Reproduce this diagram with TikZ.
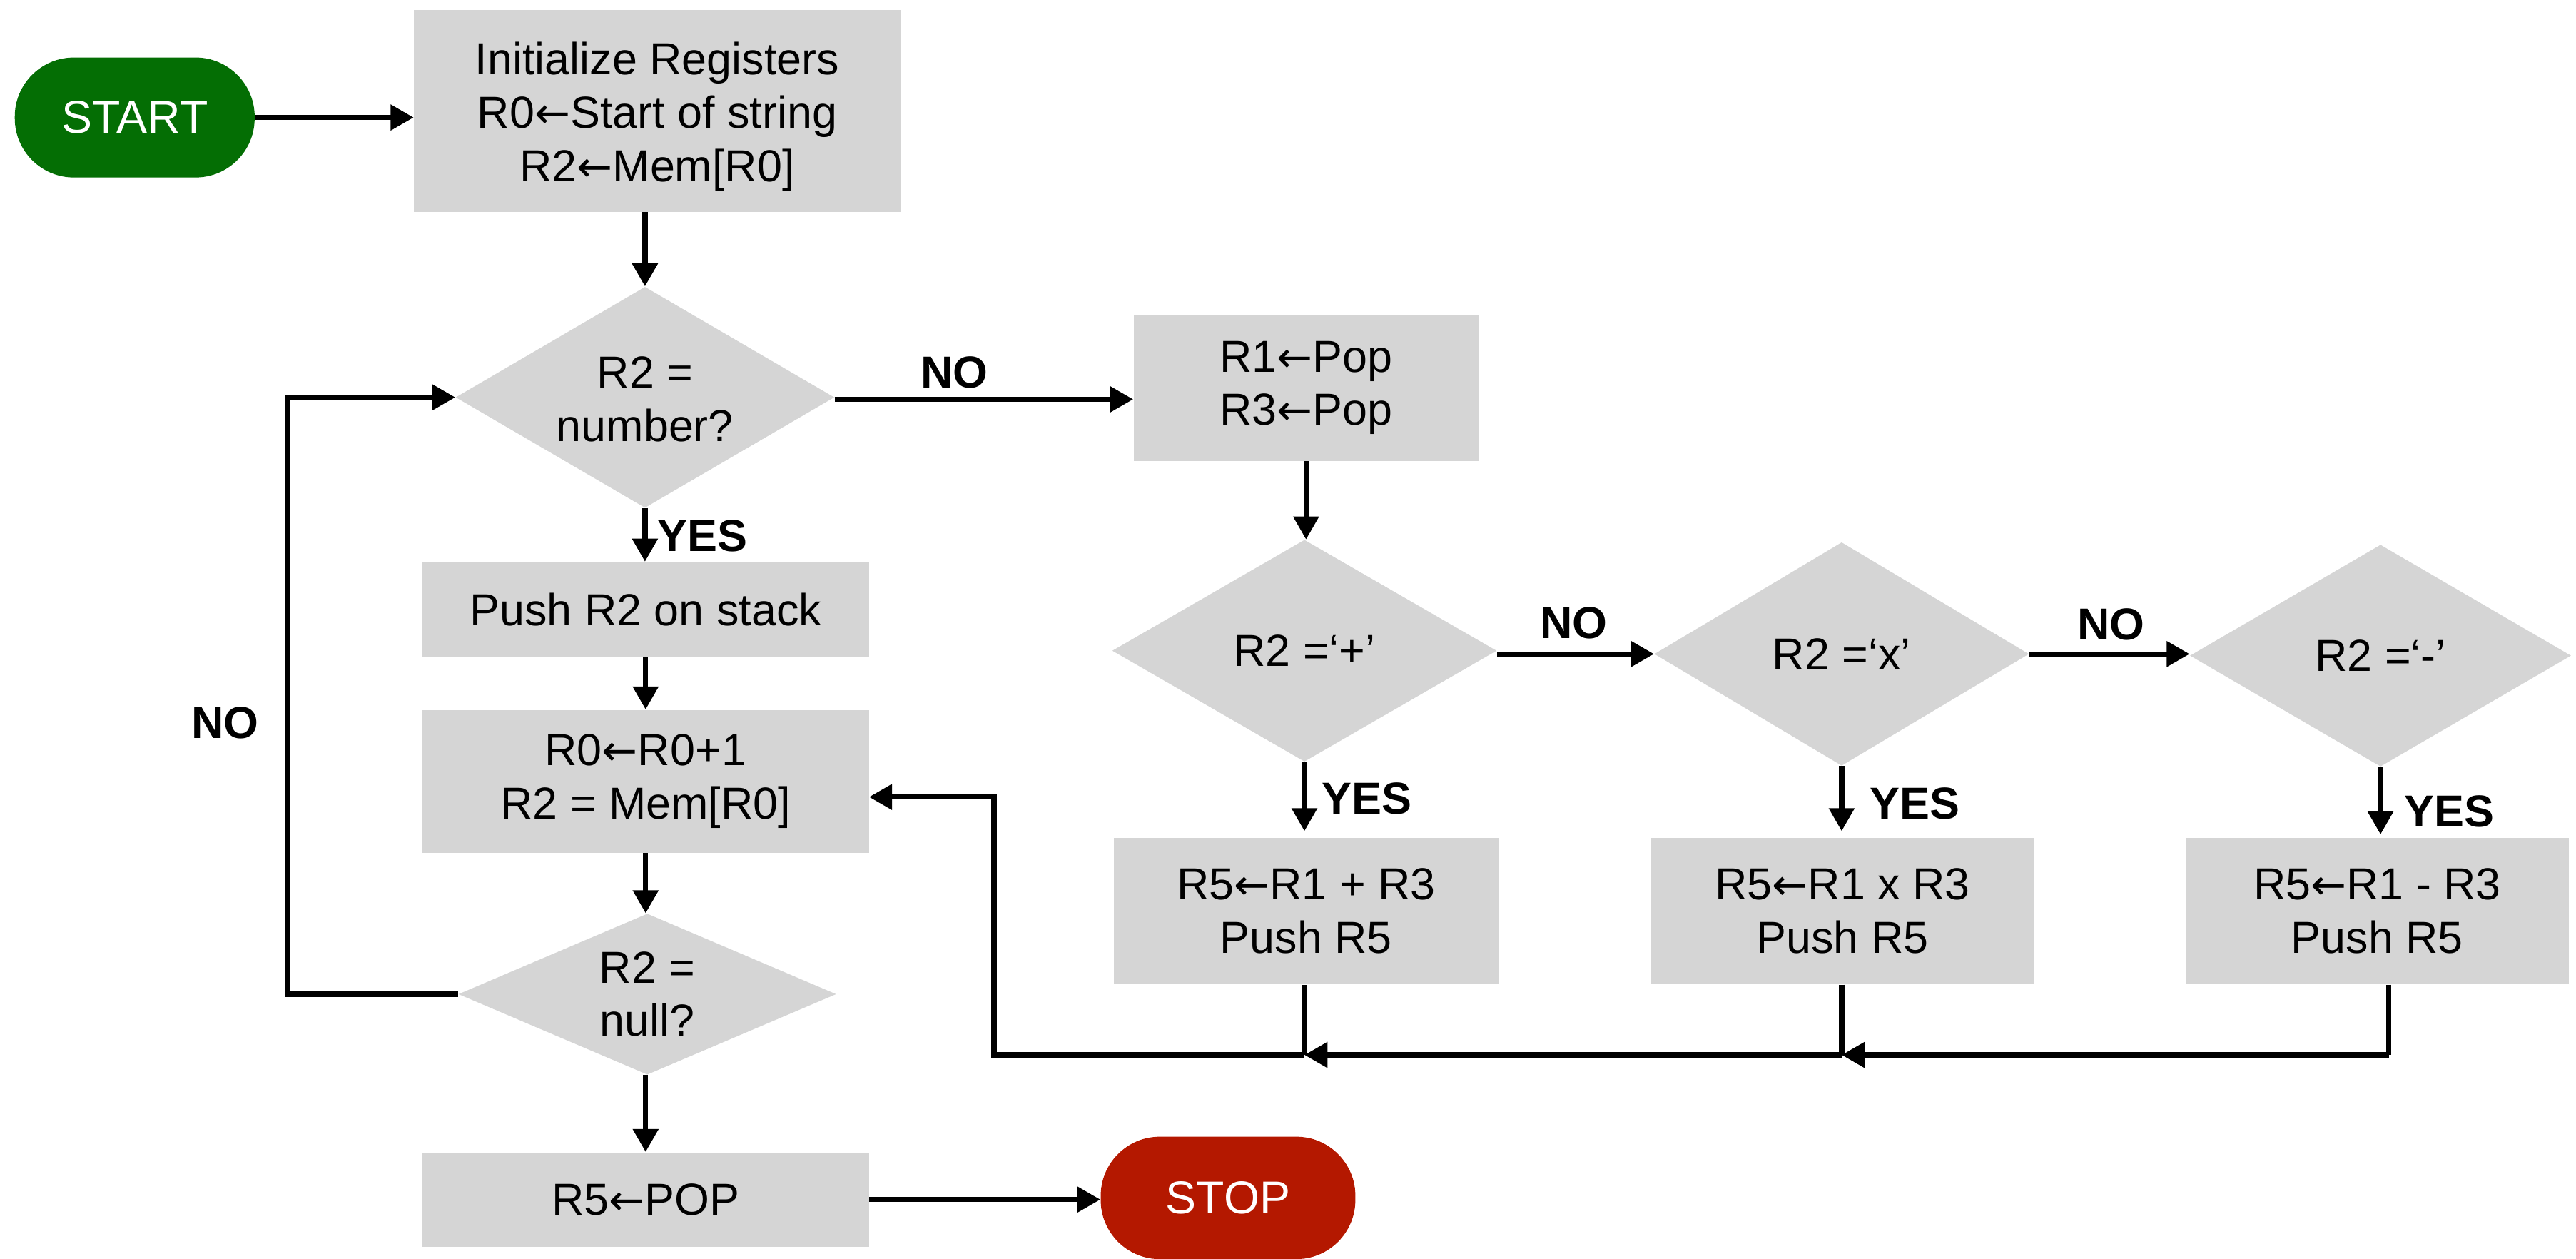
\documentclass[tikz,border=0pt]{standalone}
\usepackage{fontspec}
\setmainfont{Liberation Sans}
\newfontfamily\arrfont[Scale=0.95]{DejaVu Sans}
\usetikzlibrary{arrows.meta,shapes.geometric}
\definecolor{boxgray}{RGB}{213,213,213}
\definecolor{startgreen}{RGB}{4,110,4}
\definecolor{stopred}{RGB}{180,24,0}
\newcommand{\fsz}{\fontsize{27.3}{32.5}\selectfont}
\newcommand{\la}{{\arrfont ←}}
\tikzset{
  stepbox/.style={rectangle, fill=boxgray, inner sep=0pt, align=center, font=\fsz},
  decide/.style={diamond, fill=boxgray, inner sep=0pt},
  dtext/.style={inner sep=0pt, align=center, font=\fsz},
  term/.style={rectangle, rounded corners=36pt, inner sep=0pt, text=white, font=\fontsize{28}{33}\selectfont},
  conn/.style={line width=3.2pt},
  arr/.style={line width=3.2pt, -{Triangle[length=14pt,width=15pt]}},
  lbl/.style={inner sep=0pt, font=\bfseries\fsz}
}
\begin{document}
\begin{tikzpicture}[x=1pt,y=-1pt]
\useasboundingbox (0,0) rectangle (1568,765.8);
% terminals
\node[term, fill=startgreen, minimum width=146pt, minimum height=73pt] (start) at (82,71.5) {START};
\node[term, fill=stopred, minimum width=155pt, minimum height=74.5pt] (stop) at (747.5,729) {STOP};
% left column
\node[stepbox, minimum width=296pt, minimum height=123pt] (init) at (400,67.5) {};
\node[dtext] (initt) at (400,71) {Initialize Registers\\R0\la Start of string\\R2\la Mem[R0]};
\node[decide, minimum width=230.5pt, minimum height=134.5pt] (d1) at (392.6,241.8) {};
\node[dtext] (d1t) at (392.6,243) {R2 =\\number?};
\node[stepbox, minimum width=272pt, minimum height=58pt] (push) at (393,371) {Push R2 on stack};
\node[stepbox, minimum width=272pt, minimum height=87pt] (inc) at (393,475.5) {R0\la R0+1\\R2 = Mem[R0]};
\node[decide, minimum width=230pt, minimum height=98pt] (dnull) at (394,605) {};
\node[dtext] (dnullt) at (dnull) {R2 =\\null?};
\node[stepbox, minimum width=272pt, minimum height=57.5pt] (r5pop) at (393,730) {R5\la POP};
% right part
\node[stepbox, minimum width=210pt, minimum height=89pt] (pop) at (795,236) {R1\la Pop\\R3\la Pop};
\node[decide, minimum width=234pt, minimum height=135pt] (dplus) at (794,396) {};
\node[dtext] (dplust) at (dplus) {R2 =‘+’};
\node[decide, minimum width=228pt, minimum height=136pt] (dx) at (1121,398) {};
\node[dtext] (dxt) at (dx) {R2 =‘x’};
\node[decide, minimum width=232pt, minimum height=135pt] (dminus) at (1449,399) {};
\node[dtext] (dminust) at (dminus) {R2 =‘-’};
\node[stepbox, minimum width=234pt, minimum height=89pt] (b1) at (795,554.5) {R5\la R1 + R3\\Push R5};
\node[stepbox, minimum width=233pt, minimum height=89pt] (b2) at (1121.5,554.5) {R5\la R1 x R3\\Push R5};
\node[stepbox, minimum width=233pt, minimum height=89pt] (b3) at (1447,554.5) {R5\la R1 - R3\\Push R5};
% labels
\node[lbl] (no1) at (581,226.5) {NO};
\node[lbl] (no2) at (958,379) {NO};
\node[lbl] (no3) at (1285,380) {NO};
\node[lbl] (no4) at (137,440) {NO};
\node[lbl] (yes1) at (427.5,326) {YES};
\node[lbl] (yes2) at (832,486) {YES};
\node[lbl] (yes3) at (1165.5,489) {YES};
\node[lbl] (yes4) at (1491,494) {YES};
% helper coordinates
\coordinate (lx) at (175,0);
\coordinate (m3) at (1454,642);
\coordinate (m2) at (1121,642);
\coordinate (m1) at (794,642);
\coordinate (m0) at (605,642);
\coordinate (incin) at (529,485);
% connectors
\draw[arr] (start.east |- 0,71.5) -- (init.west |- 0,71.5);
\draw[arr] (d1.north |- init.south) -- (d1.north);
\draw[arr] (d1.south) -- (push.north -| d1.south);
\draw[arr] (push.south) -- (inc.north);
\draw[arr] (inc.south) -- (dnull.north -| inc.south);
\draw[arr] (dnull.south -| r5pop.north) -- (r5pop.north);
\draw[arr] (r5pop.east) -- (stop.west |- r5pop.east);
\draw[arr] (dnull.west) -- (dnull.west -| lx) |- (d1.west);
\draw[arr] (d1.east |- 0,243) -- (pop.west |- 0,243);
\draw[arr] (pop.south) -- (dplus.north -| pop.south);
\draw[arr] (dplus.east |- 0,398) -- (dx.west |- 0,398);
\draw[arr] (dx.east |- 0,398) -- (dminus.west |- 0,398);
\draw[arr] (dplus.south) -- ([yshift=4pt]b1.north -| dplus.south);
\draw[arr] (dx.south) -- ([yshift=4pt]b2.north -| dx.south);
\draw[arr] (dminus.south) -- ([yshift=2pt]b3.north -| dminus.south);
\draw[conn] (b3.south -| m3) -- (m3);
\draw[arr] (m3) -- (m2);
\draw[conn] (b2.south -| m2) -- (m2);
\draw[arr] (m2) -- (m1);
\draw[conn] (b1.south -| m1) -- (m1);
\draw[arr] (m1) -- (m0) |- (incin);
\end{tikzpicture}
\end{document}
